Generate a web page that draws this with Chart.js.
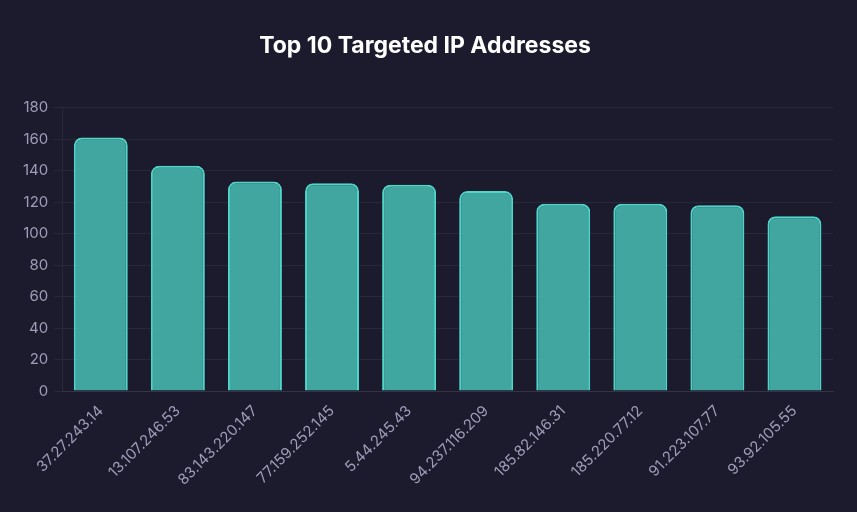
<!DOCTYPE html><html lang="en">
<head>
  <meta charset="UTF-8" />
  <title>Top 10 Targeted IP Addresses</title>
  <style>
    html, body { margin:0; padding:0; background:#1b1b2d; }
    #wrap { width:857px; height:512px; position:relative; }
  </style>
  <script src="https://cdn.jsdelivr.net/npm/chart.js"></script>
</head>
<body>
  <div id="wrap"><canvas id="ipChart"></canvas></div>
<script>
  // data
  const ipLabels = ['37.27.243.14','13.107.246.53','83.143.220.147','77.159.252.145','5.44.245.43','94.237.116.209','185.82.146.31','185.220.77.12','91.223.107.77','93.92.105.55'];
  const hitCounts = [161, 143, 133, 132, 131, 127, 119, 119, 118, 111];
  const yTicks = [0, 20, 40, 60, 80, 100, 120, 140, 160, 180];

  const tickColor = '#9e9cb8';
  const gridColor = 'rgba(255,255,255,0.06)';
  Chart.defaults.font.family = 'Inter, "Noto Sans", sans-serif';

  const ctx = document.getElementById('ipChart').getContext('2d');
  new Chart(ctx, {
    type: 'bar',
    data: {
      labels: ipLabels,
      datasets: [{
        data: hitCounts,
        backgroundColor: 'rgba(72,190,180,0.85)',
        borderColor: '#4fd6c8',
        borderWidth: 2,
        borderRadius: 8,
        borderSkipped: 'bottom',
        barPercentage: 0.7,
        categoryPercentage: 1
      }]
    },
    options: {
      responsive: true,
      maintainAspectRatio: false,
      animation: false,
      layout: { padding: { left: 17, right: 24, top: 10, bottom: 20 } },
      plugins: {
        legend: { display: false },
        tooltip: { enabled: false },
        title: {
          display: true,
          text: 'Top 10 Targeted IP Addresses',
          color: '#ffffff',
          font: { size: 23, weight: 'bold' },
          padding: { top: 22, bottom: 48 }
        }
      },
      scales: {
        x: {
          grid: { display: false },
          border: { color: gridColor },
          ticks: { color: tickColor, font: { size: 15 }, maxRotation: 45, minRotation: 45 }
        },
        y: {
          min: 0,
          max: 180,
          afterBuildTicks: axis => { axis.ticks = yTicks.map(v => ({ value: v })); },
          grid: { color: gridColor },
          border: { color: gridColor },
          ticks: { color: tickColor, font: { size: 15 }, padding: 6 }
        }
      }
    }
  });
</script>
</body>
</html>
